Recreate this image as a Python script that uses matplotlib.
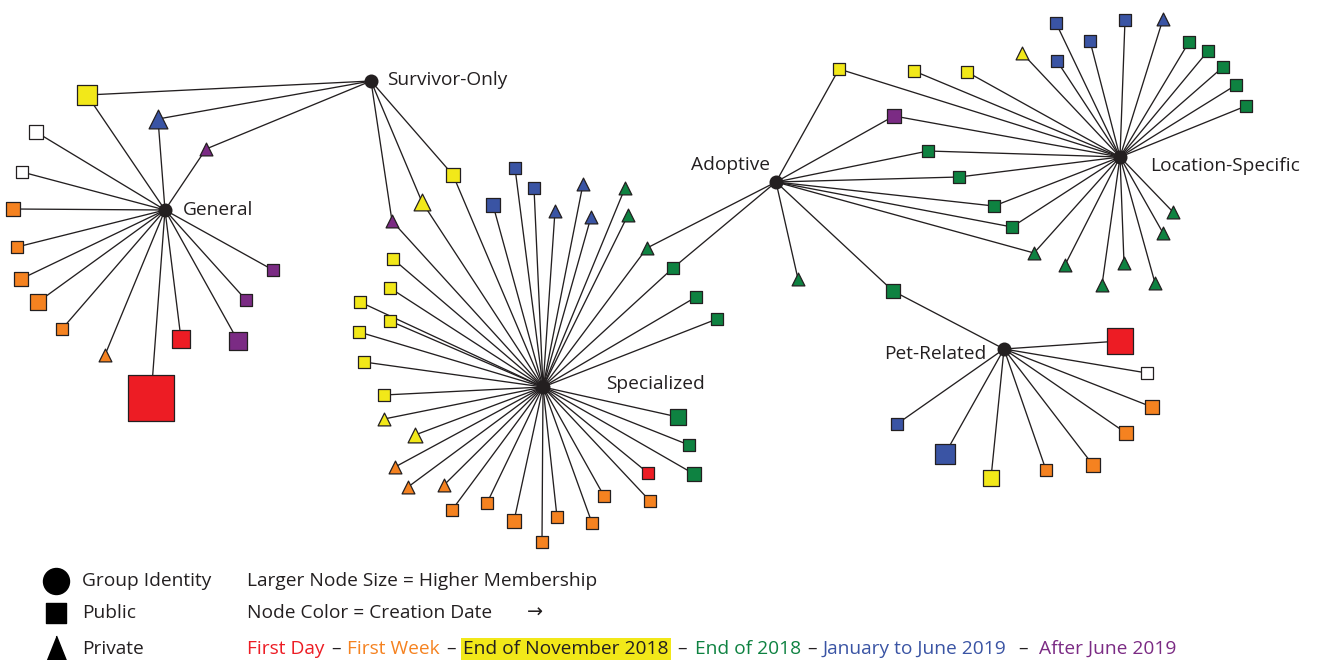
import matplotlib

matplotlib.use("Agg")
import matplotlib.pyplot as plt

# creation-date categories
period_labels = ["First Day", "First Week", "End of November 2018",
                 "End of 2018", "January to June 2019", "After June 2019"]
period_colors = ["#ED1C24", "#F58220", "#F2E819", "#0E8241", "#3A54A4", "#7B2B84"]
unknown_color = "#FFFFFF"

# group-identity hubs (layout in pixel space)
hub_codes = ["G", "S", "Z", "A", "L", "R"]
hub_names = ["General", "Survivor-Only", "Specialized", "Adoptive",
             "Location-Specific", "Pet-Related"]
hub_x = [165, 371, 543, 776, 1120, 1004]
hub_y = [210, 81, 387, 182, 157, 349]

# groups: (x, y, shape, period, node size, hubs linked); period -1 = unknown
general_nodes = [
    (87, 95, "s", 2, 21, "GS"), (158, 119, "^", 4, 20, "GS"), (206, 149, "^", 5, 14, "GS"),
    (36, 132, "s", -1, 15, "G"), (22, 172, "s", -1, 13, "G"), (13, 209, "s", 1, 15, "G"),
    (17, 247, "s", 1, 13, "G"), (21, 279, "s", 1, 15, "G"), (38, 302, "s", 1, 17, "G"),
    (62, 329, "s", 1, 13, "G"), (105, 355, "^", 1, 14, "G"), (151, 398, "s", 0, 48, "G"),
    (181, 339, "s", 0, 20, "G"), (238, 341, "s", 5, 19, "G"), (246, 300, "s", 5, 14, "G"),
    (273, 270, "s", 5, 14, "G"),
]
specialized_nodes = [
    (453, 175, "s", 2, 15, "SZ"), (422, 202, "^", 2, 18, "SZ"), (392, 221, "^", 5, 14, "SZ"),
    (515, 168, "s", 4, 14, "Z"), (534, 188, "s", 4, 14, "Z"), (493, 205, "s", 4, 16, "Z"),
    (583, 184, "^", 4, 14, "Z"), (555, 211, "^", 4, 14, "Z"), (591, 217, "^", 4, 14, "Z"),
    (625, 188, "^", 3, 14, "Z"), (628, 215, "^", 3, 14, "Z"), (647, 248, "^", 3, 14, "ZA"),
    (673, 268, "s", 3, 14, "ZA"), (696, 297, "s", 3, 13, "Z"), (717, 319, "s", 3, 13, "Z"),
    (678, 417, "s", 3, 17, "Z"), (689, 445, "s", 3, 13, "Z"), (694, 474, "s", 3, 15, "Z"),
    (648, 473, "s", 0, 13, "Z"), (650, 501, "s", 1, 14, "Z"), (604, 496, "s", 1, 13, "Z"),
    (592, 523, "s", 1, 13, "Z"), (557, 517, "s", 1, 13, "Z"), (542, 542, "s", 1, 13, "Z"),
    (514, 521, "s", 1, 15, "Z"), (487, 503, "s", 1, 13, "Z"), (452, 510, "s", 1, 13, "Z"),
    (444, 485, "^", 1, 14, "Z"), (408, 487, "^", 1, 14, "Z"), (395, 467, "^", 1, 14, "Z"),
    (415, 435, "^", 2, 16, "Z"), (384, 419, "^", 2, 14, "Z"), (384, 395, "s", 2, 14, "Z"),
    (364, 362, "s", 2, 13, "Z"), (359, 332, "s", 2, 13, "Z"), (390, 321, "s", 2, 13, "Z"),
    (360, 302, "s", 2, 13, "Z"), (390, 288, "s", 2, 13, "Z"), (393, 259, "s", 2, 13, "Z"),
]
adoptive_nodes = [
    (839, 69, "s", 2, 14, "AL"), (894, 116, "s", 5, 16, "AL"), (928, 151, "s", 3, 13, "AL"),
    (959, 177, "s", 3, 13, "AL"), (994, 206, "s", 3, 13, "AL"), (1012, 227, "s", 3, 13, "AL"),
    (1034, 253, "^", 3, 14, "AL"), (798, 279, "^", 3, 14, "A"), (893, 291, "s", 3, 16, "AR"),
]
location_nodes = [
    (914, 71, "s", 2, 14, "L"), (967, 72, "s", 2, 13, "L"), (1022, 53, "^", 2, 14, "L"),
    (1056, 23, "s", 4, 14, "L"), (1090, 41, "s", 4, 14, "L"), (1057, 61, "s", 4, 14, "L"),
    (1125, 20, "s", 4, 14, "L"), (1163, 19, "^", 4, 14, "L"), (1189, 42, "s", 3, 13, "L"),
    (1208, 51, "s", 3, 13, "L"), (1223, 67, "s", 3, 13, "L"), (1236, 85, "s", 3, 13, "L"),
    (1246, 106, "s", 3, 13, "L"), (1173, 212, "^", 3, 14, "L"), (1163, 233, "^", 3, 14, "L"),
    (1155, 283, "^", 3, 14, "L"), (1124, 263, "^", 3, 14, "L"), (1102, 285, "^", 3, 14, "L"),
    (1065, 265, "^", 3, 14, "L"),
]
pet_nodes = [
    (1120, 341, "s", 0, 28, "R"), (1147, 373, "s", -1, 13, "R"), (1152, 407, "s", 1, 15, "R"),
    (1126, 433, "s", 1, 16, "R"), (1093, 465, "s", 1, 16, "R"), (1046, 470, "s", 1, 13, "R"),
    (991, 478, "s", 2, 18, "R"), (945, 454, "s", 4, 22, "R"), (897, 424, "s", 4, 13, "R"),
]

INK = "#231F20"
FONT = ["Open Sans", "DejaVu Sans"]
FS = 13.8
PT = 0.72  # points per pixel at dpi 100

fig = plt.figure(figsize=(13.19, 6.6), dpi=100)
ax = fig.add_axes([0, 0, 1, 1])
ax.set_xlim(0, 1319)
ax.set_ylim(660, 0)
ax.axis("off")

hub_pos = {c: (x, y) for c, x, y in zip(hub_codes, hub_x, hub_y)}
all_nodes = general_nodes + specialized_nodes + adoptive_nodes + location_nodes + pet_nodes

for x, y, shape, period, size, hubs in all_nodes:
    for h in hubs:
        hx, hy = hub_pos[h]
        ax.plot([hx, x], [hy, y], color=INK, lw=0.95, zorder=1, solid_capstyle="butt")

for x, y, shape, period, size, hubs in all_nodes:
    color = unknown_color if period < 0 else period_colors[period]
    side = (size - 1.2) * PT
    ax.scatter([x], [y], marker=shape, s=side ** 2, facecolor=color,
               edgecolor=INK, linewidths=0.9, zorder=3)

ax.scatter(hub_x, hub_y, s=(14 * PT) ** 2, color=INK, zorder=4, linewidths=0)

label_offsets = {
    "G": (18, 0, "left"), "S": (16, -1, "left"), "Z": (63, -3, "left"),
    "A": (-6, -17, "right"), "L": (30, 9, "left"), "R": (-18, 5, "right"),
}
for code, name, x, y in zip(hub_codes, hub_names, hub_x, hub_y):
    dx, dy, ha = label_offsets[code]
    ax.text(x + dx, y + dy, name, ha=ha, va="center", fontsize=FS, color=INK, family=FONT)

# legend
ax.scatter([56], [581], s=(26 * PT) ** 2, color="black", zorder=4)
ax.scatter([56], [613], marker="s", s=(20 * PT) ** 2, color="black", zorder=4)
ax.scatter([56], [648], marker=[(-0.8, -1), (0.8, -1), (0, 1)], s=(25 * PT) ** 2,
           color="black", zorder=4)
for y, txt in [(581, "Group Identity"), (613, "Public"), (649, "Private")]:
    ax.text(82, y, txt, ha="left", va="center", fontsize=FS, color=INK, family=FONT)
ax.text(247, 581, "Larger Node Size = Higher Membership", ha="left", va="center",
        fontsize=FS, color=INK, family=FONT)
ax.text(247, 613, "Node Color = Creation Date", ha="left", va="center",
        fontsize=FS, color=INK, family=FONT)
ax.text(527, 613, "\u2192", ha="left", va="center", fontsize=FS, color=INK, family=FONT)

# colour key line: each label at its own start, en dashes centred in the gaps
key_x = [247, 347, 463, 695, 823, 1039]
fig.canvas.draw()
renderer = fig.canvas.get_renderer()
inv = ax.transData.inverted()
prev_end = None
for i, (lab, col, x0) in enumerate(zip(period_labels, period_colors, key_x)):
    if i == 2:
        t = ax.text(x0, 649, lab, ha="left", va="center", fontsize=FS, color=INK, family=FONT)
        t.set_bbox(dict(facecolor=col, edgecolor="none", pad=1.8))
    else:
        t = ax.text(x0, 649, lab, ha="left", va="center", fontsize=FS, color=col, family=FONT)
    if prev_end is not None:
        ax.text((prev_end + x0) / 2, 649, "\u2013", ha="center", va="center",
                fontsize=FS, color=INK, family=FONT)
    bb = t.get_window_extent(renderer)
    prev_end = inv.transform((bb.x1, 0))[0]

fig.savefig("out.png", dpi=100)
